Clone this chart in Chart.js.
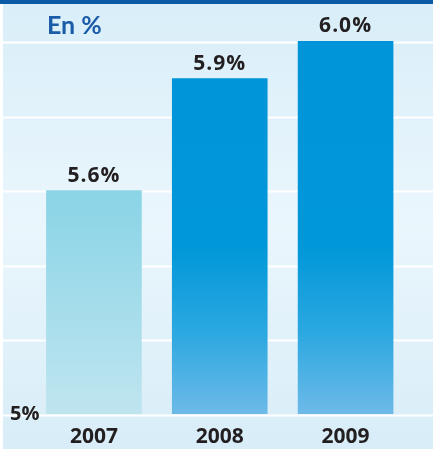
<!DOCTYPE html>
<html>
<head>
<meta charset="utf-8">
<script src="https://cdn.jsdelivr.net/npm/chart.js@4.4.1/dist/chart.umd.min.js"></script>
<style>
  html, body { margin: 0; padding: 0; background: #fff; }
  #wrap { width: 433px; height: 449px; position: relative; }
</style>
</head>
<body>
<div id="wrap"><canvas id="graph" width="433" height="449"></canvas></div>
<script>
// données
const annees = ['2007', '2008', '2009'];
const taux = [5.6, 5.9, 6.0];
const titre = 'En %';
const yMin = 5;
const yMax = 6;
const yPas = 0.2;

const ctx = document.getElementById('graph').getContext('2d');

// couleurs des barres (dégradés)
function degrade(chart, i) {
    const area = chart.chartArea;
    if (!area) return '#0095d8';
    const g = chart.ctx.createLinearGradient(0, area.top, 0, area.bottom);
    if (i === 0) {
        g.addColorStop(0, '#80d0e5');
        g.addColorStop(0.45, '#8dd5e7');
        g.addColorStop(1, '#bfe5ef');
    } else {
        g.addColorStop(0, '#0094d8');
        g.addColorStop(0.55, '#0097d9');
        g.addColorStop(0.78, '#2ba8e0');
        g.addColorStop(1, '#6dbae8');
    }
    return g;
}

// fond + lignes de grille sur toute la largeur
const fond = {
    id: 'fond',
    beforeDraw(chart) {
        const c = chart.ctx;
        const w = chart.width, h = chart.height;
        c.save();
        c.fillStyle = '#ffffff';
        c.fillRect(0, 0, w, h);
        const g = c.createLinearGradient(0, 0, 0, h);
        g.addColorStop(0, '#d9eef9');
        g.addColorStop(0.5, '#eaf6fc');
        g.addColorStop(1, '#d8edf8');
        c.fillStyle = g;
        c.fillRect(3, 0, w - 3, h);
        c.fillStyle = '#0b5aa7';
        c.fillRect(0, 0, w, 4);
        const y = chart.scales.y;
        c.strokeStyle = '#ffffff';
        c.lineWidth = 2;
        y.ticks.forEach(t => {
            const py = Math.round(y.getPixelForValue(t.value)) + 1.5;
            c.beginPath();
            c.moveTo(3, py);
            c.lineTo(w, py);
            c.stroke();
        });
        c.restore();
    },
    afterDatasetsDraw(chart) {
        const c = chart.ctx;
        c.save();
        c.fillStyle = '#1a5ca8';
        c.font = 'bold 25px Lato';
        c.textAlign = 'left';
        c.textBaseline = 'alphabetic';
        c.fillText(titre, 47, 34);
        c.fillStyle = '#231f20';
        c.font = 'bold 21px "Open Sans"';
        c.letterSpacing = '1px';
        c.textAlign = 'center';
        c.textBaseline = 'bottom';
        chart.getDatasetMeta(0).data.forEach((bar, i) => {
            c.fillText(taux[i].toFixed(1) + '%', bar.x, bar.y - 4);
        });
        c.restore();
    }
};

const config = {
    type: 'bar',
    data: {
        labels: annees,
        datasets: [{
            data: taux,
            backgroundColor: (c) => degrade(c.chart, c.dataIndex),
            borderWidth: 0,
            categoryPercentage: 1,
            barPercentage: 0.76
        }]
    },
    options: {
        responsive: false,
        animation: false,
        layout: { padding: { left: 3, right: 24.5, top: 41, bottom: 0 } },
        plugins: { legend: { display: false }, tooltip: { enabled: false } },
        scales: {
            x: {
                afterFit: (s) => { s.height = 35; },
                grid: { display: false, drawTicks: false },
                border: { display: false },
                ticks: {
                    padding: 10,
                    color: '#231f20',
                    font: { family: 'Open Sans', size: 21, weight: 'bold' }
                }
            },
            y: {
                min: yMin,
                max: yMax,
                afterFit: (s) => { s.width = 28; },
                grid: { display: false, drawTicks: false },
                border: { display: false },
                ticks: {
                    stepSize: yPas,
                    mirror: true,
                    crossAlign: 'near',
                    padding: -21,
                    labelOffset: 0,
                    color: '#231f20',
                    font: { family: 'Open Sans', size: 20, weight: 'bold' },
                    callback: (v) => Math.abs(v - yMin) < 1e-9 ? yMin + '%' : ''
                }
            }
        }
    },
    plugins: [fond]
};

const monGraphique = new Chart(ctx, config);
</script>
</body>
</html>
